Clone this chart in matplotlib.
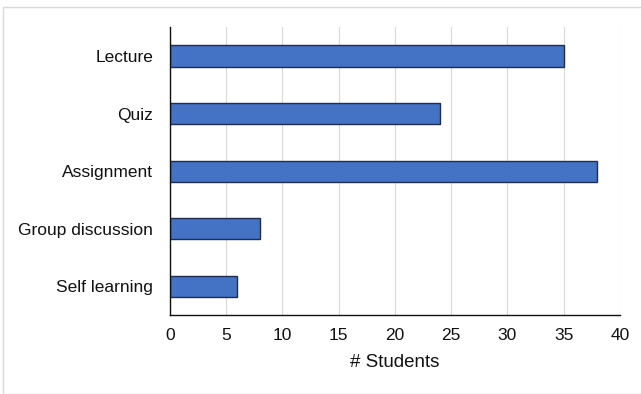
import matplotlib
matplotlib.use("Agg")
import matplotlib.pyplot as plt
from matplotlib.patches import Rectangle

plt.rcParams['font.family'] = ['Liberation Sans', 'DejaVu Sans']

# activity categories and number of students
activities = ['Lecture', 'Quiz', 'Assignment', 'Group discussion', 'Self learning']
students = [35, 24, 38, 8, 6]
xticks = [0, 5, 10, 15, 20, 25, 30, 35, 40]

fig = plt.figure(figsize=(6.41, 3.94), dpi=100)
ax = fig.add_axes([0.265, 0.2, 0.702, 0.731])

pos = list(range(len(activities)))
ax.barh(pos, students, height=0.37, color='#4472C4', edgecolor='#1f2d50', linewidth=1.0, zorder=3)

ax.set_ylim(len(activities) - 0.5, -0.5)
ax.set_xlim(0, 40)
ax.set_xticks(xticks)
ax.set_yticks(pos)
ax.set_yticklabels(activities)
ax.tick_params(length=0, labelsize=12.5, colors='#111111')
ax.tick_params(axis='x', pad=9)
ax.tick_params(axis='y', pad=12)
ax.grid(axis='x', color='#d9d9d9', linewidth=0.8, zorder=0)

for s in ['top', 'right']:
    ax.spines[s].set_visible(False)
for s in ['left', 'bottom']:
    ax.spines[s].set_color('#111111')
    ax.spines[s].set_linewidth(1.0)
    ax.spines[s].set_zorder(4)

ax.set_xlabel('# Students', fontsize=13.5, labelpad=8, color='#111111')

# light frame around the whole chart
fig.patches.append(Rectangle((3 / 641, 0), 1, 1 - 7 / 394, transform=fig.transFigure,
                             fill=False, edgecolor='#d9d9d9', linewidth=1.0))

fig.savefig('out.png', dpi=100)
